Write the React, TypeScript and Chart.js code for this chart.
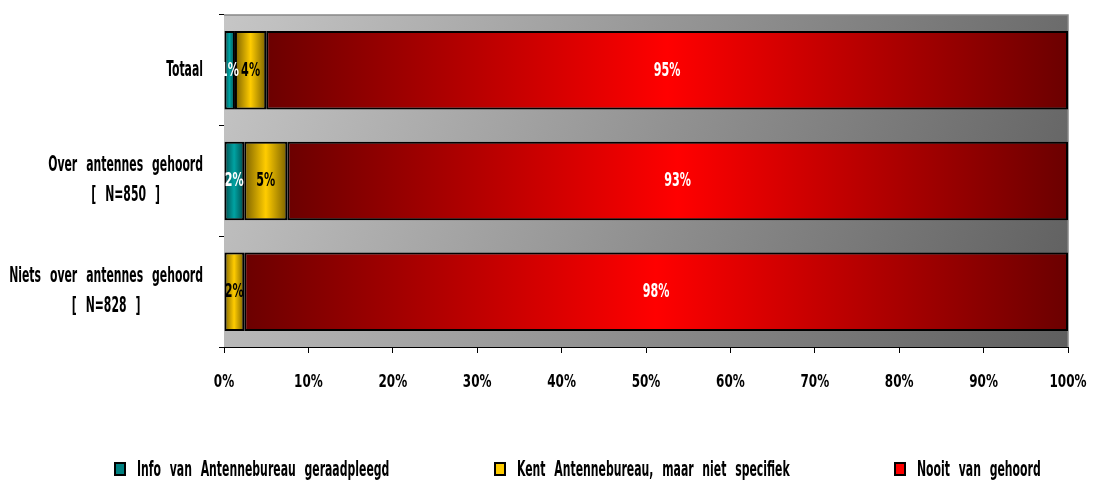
import React, { useEffect, useRef } from 'react';
import { Chart, registerables } from 'chart.js';

Chart.register(...registerables);

const categories: string[][] = [
  ['Totaal'],
  ['Over antennes gehoord', '[ N=850 ]'],
  ['Niets over antennes gehoord', '[ N=828 ]'],
];
const seriesNames = [
  'Info van Antennebureau geraadpleegd',
  'Kent Antennebureau, maar niet specifiek',
  'Nooit van gehoord',
];
const infoValues = [1.3, 2.4, 0];
const kentValues = [3.7, 5.1, 2.4];
const nooitValues = [95.0, 92.5, 97.6];
const xTickValues = [0, 10, 20, 30, 40, 50, 60, 70, 80, 90, 100];

const FONT = "'DejaVu Sans Condensed', 'Liberation Sans Narrow', sans-serif";

const palettes = [
  { edge: '#004a4a', center: '#00a3a3', solid: '#008080', text: '#ffffff' },
  { edge: '#7a6000', center: '#ffcc00', solid: '#ffcc00', text: '#000000' },
  { edge: '#6b0000', center: '#ff0000', solid: '#ff0000', text: '#ffffff' },
];

function segBounds(chart: any, di: number, i: number) {
  let start = 0;
  for (let d = 0; d < di; d++) start += chart.data.datasets[d].data[i];
  const end = start + chart.data.datasets[di].data[i];
  return [start, end];
}

function makeBg(di: number) {
  return (ctx: any) => {
    const p = palettes[di];
    const chart = ctx.chart;
    const xs = chart.scales && chart.scales.x;
    if (!xs || ctx.dataIndex == null) return p.solid;
    const [s, e] = segBounds(chart, di, ctx.dataIndex);
    const x0 = xs.getPixelForValue(s);
    const x1 = xs.getPixelForValue(e);
    if (!isFinite(x0) || !isFinite(x1) || x1 - x0 < 1) return p.solid;
    const g = chart.ctx.createLinearGradient(x0, 0, x1, 0);
    g.addColorStop(0, p.edge);
    g.addColorStop(0.5, p.center);
    g.addColorStop(1, p.edge);
    return g;
  };
}

function scaledText(ctx: any, text: string, x: number, y: number, align: string, sx: number) {
  ctx.save();
  ctx.translate(x, y);
  ctx.scale(sx, 1);
  ctx.textAlign = align;
  ctx.fillText(text, 0, 0);
  ctx.restore();
}

const plotBgPlugin = {
  id: 'plotBg',
  beforeDatasetsDraw(chart: any) {
    const { ctx, chartArea: a } = chart;
    ctx.save();
    const g = ctx.createLinearGradient(a.left, a.top, a.right, a.bottom);
    g.addColorStop(0, '#c6c6c6');
    g.addColorStop(1, '#5e5e5e');
    ctx.fillStyle = g;
    ctx.fillRect(a.left, a.top, a.right - a.left, a.bottom - a.top);
    ctx.strokeStyle = '#888888';
    ctx.lineWidth = 1.5;
    ctx.beginPath();
    ctx.moveTo(a.left, a.top);
    ctx.lineTo(a.right, a.top);
    ctx.lineTo(a.right, a.bottom);
    ctx.stroke();
    ctx.restore();
  },
};

const labelsPlugin = {
  id: 'customLabels',
  afterDraw(chart: any) {
    const { ctx, chartArea: a } = chart;
    const ys = chart.scales.y;
    const xs = chart.scales.x;
    ctx.save();
    ctx.textBaseline = 'middle';
    // bar value labels
    ctx.font = `bold 20px ${FONT}`;
    chart.data.datasets.forEach((ds: any, di: number) => {
      ds.data.forEach((v: number, i: number) => {
        if (!v) return;
        const [s, e] = segBounds(chart, di, i);
        const cx = (xs.getPixelForValue(s) + xs.getPixelForValue(e)) / 2;
        const cy = ys.getPixelForValue(i);
        ctx.fillStyle = palettes[di].text;
        scaledText(ctx, Math.round(v) + '%', cx, cy, 'center', 0.62);
      });
    });
    // category labels
    const catSX = 0.575;
    ctx.font = `bold 21px ${FONT}`;
    (ctx as any).wordSpacing = '9px';
    ctx.fillStyle = '#000000';
    const rightEdge = a.left - 21;
    const lineH = 30;
    categories.forEach((lines, i) => {
      const widest = Math.max(...lines.map((l) => ctx.measureText(l).width)) * catSX;
      const cx = rightEdge - widest / 2;
      const cy = ys.getPixelForValue(i);
      lines.forEach((l, k) => {
        const y = cy + (k - (lines.length - 1) / 2) * lineH;
        scaledText(ctx, l, cx, y, 'center', catSX);
      });
    });
    // legend
    ctx.font = `bold 22px ${FONT}`;
    const legendX = [115, 495, 895];
    const ly = 469;
    seriesNames.forEach((n, i) => {
      const x = legendX[i];
      ctx.fillStyle = palettes[i].solid;
      ctx.fillRect(x, ly - 6, 10, 12);
      ctx.strokeStyle = '#000';
      ctx.lineWidth = 2;
      ctx.strokeRect(x, ly - 6, 10, 12);
      ctx.fillStyle = '#000';
      scaledText(ctx, n, x + 22, ly + 1, 'left', 0.55);
    });
    // x tick labels
    (ctx as any).wordSpacing = '0px';
    ctx.font = `bold 18px ${FONT}`;
    xTickValues.forEach((v) => {
      scaledText(ctx, v + '%', xs.getPixelForValue(v), a.bottom + 35, 'center', 0.74);
    });
    ctx.restore();
  },
};

export default function App() {
  const ref = useRef<HTMLCanvasElement>(null);
  useEffect(() => {
    if (!ref.current) return;
    const chart = new Chart(ref.current, {
      type: 'bar',
      data: {
        labels: categories.map((c) => c.join(' ')),
        datasets: [infoValues, kentValues, nooitValues].map((vals, di) => ({
          label: seriesNames[di],
          data: vals,
          backgroundColor: makeBg(di),
          borderColor: '#000000',
          borderWidth: 2,
          borderSkipped: false,
          barPercentage: 0.71,
          categoryPercentage: 1,
        })),
      },
      options: {
        indexAxis: 'y',
        animation: false,
        responsive: false,
        maintainAspectRatio: false,
        layout: { padding: { top: 15, right: 25, left: 0, bottom: 0 } },
        plugins: { legend: { display: false }, tooltip: { enabled: false } },
        scales: {
          x: {
            stacked: true,
            min: 0,
            max: 100,
            afterBuildTicks: (s: any) => {
              s.ticks = xTickValues.map((v) => ({ value: v }));
            },
            afterFit: (s: any) => {
              s.height = 135;
            },
            ticks: { display: false },
            grid: { drawOnChartArea: false, color: '#000', tickLength: 6, lineWidth: 1 },
            border: { color: '#000', width: 1 },
          },
          y: {
            stacked: true,
            afterFit: (s: any) => {
              s.width = 224;
            },
            ticks: { display: false },
            grid: { offset: true, drawOnChartArea: false, color: '#000', tickLength: 5, lineWidth: 1 },
            border: { color: '#000', width: 1 },
          },
        },
      },
      plugins: [plotBgPlugin, labelsPlugin],
    } as any);
    return () => chart.destroy();
  }, []);
  return (
    <div style={{ position: 'fixed', left: 0, top: 0, width: 1093, height: 482, background: '#fff' }}>
      <canvas ref={ref} width={1093} height={482} style={{ width: 1093, height: 482 }} />
    </div>
  );
}
